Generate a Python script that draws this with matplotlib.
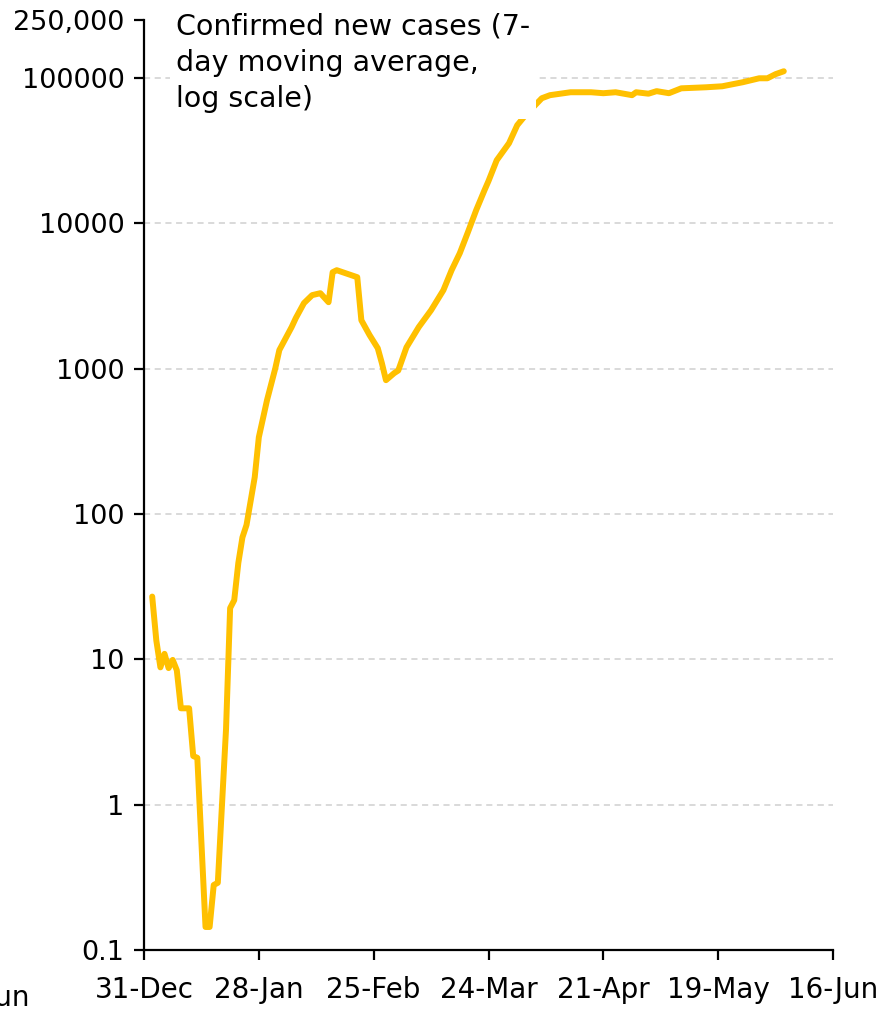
import matplotlib
matplotlib.use("Agg")
import matplotlib.pyplot as plt
import matplotlib.dates as mdates
import matplotlib.ticker as mticker
import numpy as np
import pandas as pd

# days after 31-Dec-2019 and 7-day average of confirmed new cases
days = [2, 3, 4, 5, 6, 7, 8, 9, 11, 12, 13, 15, 16, 17, 18, 20, 21, 22, 23, 24,
        25, 27, 28, 30, 32, 33, 36, 37, 39, 41, 43, 45, 46, 47, 52, 53, 55, 57,
        58, 59, 61, 62, 64, 67, 70, 73, 75, 77, 79, 81, 83, 84, 86, 89, 91, 93,
        97, 99, 104, 109, 112, 115, 119, 120, 123, 125, 128, 131, 137, 141, 146,
        150, 152, 154, 156]
cases = [27, 13.5, 8.8, 10.9, 8.7, 9.9, 8.4, 4.6, 4.6, 2.16, 2.1, 0.144, 0.144,
         0.28, 0.29, 3.3, 22.5, 25.5, 46, 69, 84, 179, 337, 607, 1000, 1340, 1930,
         2220, 2820, 3200, 3300, 2860, 4600, 4750, 4250, 2150, 1700, 1380, 1090,
         832, 930, 970, 1400, 1930, 2520, 3460, 4750, 6220, 8700, 12300, 16800,
         19500, 27100, 35500, 47200, 55300, 72400, 76000, 79600, 79600, 78400,
         79600, 76000, 79600, 77800, 81000, 78400, 84700, 86100, 87500, 93300,
         99300, 99300, 106000, 111000]

y_ticks = [0.1, 1, 10, 100, 1000, 10000, 100000, 250000]
y_labels = ["0.1", "1", "10", "100", "1000", "10000", "100000", "250,000"]

title = "Confirmed new cases (7-\nday moving average,\nlog scale)"

start = pd.Timestamp("2019-12-31")
dates = start + pd.to_timedelta(days, unit="D")
x_ticks = [start + pd.Timedelta(days=28 * k) for k in range(7)]

plt.rcParams["font.family"] = ["DejaVu Sans"]
plt.rcParams["font.size"] = 20

fig = plt.figure(figsize=(8.8, 10.1), dpi=100)
ax = fig.add_axes([144 / 880, 60 / 1010, 689 / 880, 930 / 1010])

ax.plot(dates, cases, color="#FFC000", linewidth=4.3, solid_joinstyle="round",
        solid_capstyle="round", zorder=3)

ax.set_yscale("log")
ax.set_ylim(0.1, 250000)
ax.set_xlim(x_ticks[0], x_ticks[-1])

ax.yaxis.set_major_locator(mticker.FixedLocator(y_ticks))
ax.yaxis.set_major_formatter(mticker.FixedFormatter(y_labels))
ax.yaxis.set_minor_locator(mticker.NullLocator())
ax.set_xticks(x_ticks)
ax.xaxis.set_major_formatter(mdates.DateFormatter("%d-%b"))

for v in y_ticks[1:-1]:
    ax.axhline(v, color="#d0d0d0", linewidth=1.1, linestyle=(0, (4, 3)), zorder=1)

ax.tick_params(axis="both", direction="out", length=7, width=1.6, color="black",
               labelsize=19.5, pad=7)
ax.tick_params(axis="x", labelsize=20, pad=12)
for side in ["top", "right"]:
    ax.spines[side].set_visible(False)
for side in ["left", "bottom"]:
    ax.spines[side].set_linewidth(1.6)

ax.text(176 / 880, 1 - 13 / 1010, title, transform=fig.transFigure, ha="left",
        va="top", fontsize=20.5, linespacing=1.36, zorder=5,
        bbox=dict(facecolor="white", edgecolor="none", pad=4))

fig.text(30 / 880, 4 / 1010, "Jun", ha="right", va="baseline", fontsize=20)

fig.savefig("out.png", dpi=100)
